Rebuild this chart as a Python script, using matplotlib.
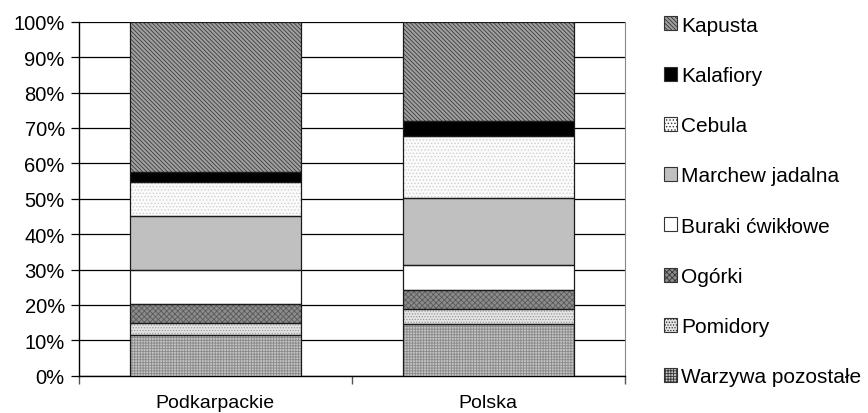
import numpy as np
import matplotlib
matplotlib.use('Agg')
import matplotlib.pyplot as plt
from matplotlib.patches import Patch

plt.rcParams['font.family'] = ['Liberation Sans', 'DejaVu Sans']
plt.rcParams['hatch.linewidth'] = 0.6

regions = ['Podkarpackie', 'Polska']
categories = ['Warzywa pozostałe', 'Pomidory', 'Ogórki', 'Buraki ćwikłowe',
              'Marchew jadalna', 'Cebula', 'Kalafiory', 'Kapusta']
shares = {
    'Warzywa pozostałe': [11.5, 14.6],
    'Pomidory': [3.3, 4.3],
    'Ogórki': [5.5, 5.2],
    'Buraki ćwikłowe': [9.6, 7.3],
    'Marchew jadalna': [15.2, 18.9],
    'Cebula': [9.7, 17.5],
    'Kalafiory': [2.8, 4.1],
    'Kapusta': [42.4, 28.1],
}
y_ticks = np.arange(0, 101, 10)

# fill colour, hatch, hatch colour per series
styles = {
    'Warzywa pozostałe': ('#c4c4c4', '++++++', '#8a8a8a'),
    'Pomidory': ('#e4e4e4', '......', '#9a9a9a'),
    'Ogórki': ('#8c8c8c', 'xxxxxx', '#5a5a5a'),
    'Buraki ćwikłowe': ('white', '', 'white'),
    'Marchew jadalna': ('#c0c0c0', '', '#c0c0c0'),
    'Cebula': ('#fbfbfb', '.....', '#cfcfcf'),
    'Kalafiory': ('black', '', 'black'),
    'Kapusta': ('#a0a0a0', '\\\\\\\\\\\\\\\\', '#3a3a3a'),
}

fig = plt.figure(figsize=(8.68, 4.14), dpi=100)
ax = fig.add_axes([0.0907, 0.0901, 0.629, 0.855])

x = np.arange(len(regions))
width = 0.627
bottom = np.zeros(len(regions))
for cat in categories:
    vals = np.array(shares[cat])
    fc, hatch, hc = styles[cat]
    ax.bar(x, vals, width, bottom=bottom, color=fc, hatch=hatch,
           edgecolor=hc, linewidth=0, zorder=3)
    ax.bar(x, vals, width, bottom=bottom, fill=False,
           edgecolor='#1a1a1a', linewidth=0.9, zorder=4)
    bottom += vals

ax.set_xlim(-0.5, 1.5)
ax.set_ylim(0, 100)
ax.set_yticks(y_ticks)
ax.set_yticklabels([f'{v}%' for v in y_ticks], fontsize=14.5)
ax.yaxis.grid(True, color='black', linewidth=0.9, zorder=0)
ax.set_axisbelow(True)

# category boundary ticks, labels at centres
ax.set_xticks([-0.5, 0.5, 1.5])
ax.set_xticklabels([])
ax.set_xticks(x, minor=True)
ax.set_xticklabels(regions, minor=True, fontsize=14)
ax.tick_params(axis='x', which='minor', length=0, pad=13)
ax.tick_params(axis='x', which='major', length=6, width=1, color='#555555')
ax.tick_params(axis='y', length=6, width=0.9, pad=4)

ax.spines['top'].set_visible(False)
ax.spines['right'].set_color('#888888')
ax.spines['left'].set_color('black')
ax.spines['bottom'].set_color('black')
ax.spines['left'].set_linewidth(1)
ax.spines['bottom'].set_linewidth(1)

handles = []
for cat in categories[::-1]:
    fc, hatch, hc = styles[cat]
    handles.append(Patch(facecolor=fc, hatch=hatch, edgecolor='#333333',
                         linewidth=0.8, label=cat))
leg = fig.legend(handles=handles, loc='upper left', bbox_to_anchor=(0.7525, 0.985),
                 frameon=False, fontsize=15, labelspacing=1.5,
                 handlelength=0.65, handleheight=0.65, handletextpad=0.2,
                 borderpad=0)

fig.savefig('out.png', dpi=100)
